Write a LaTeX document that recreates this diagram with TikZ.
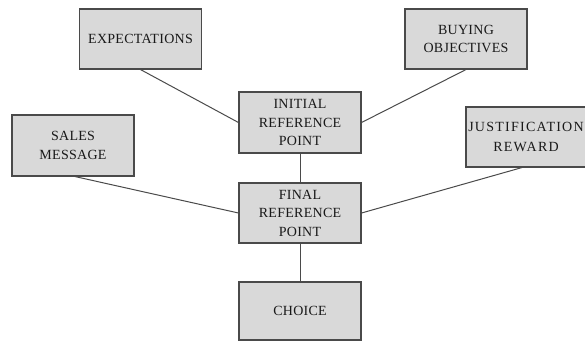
\documentclass[tikz,border=0pt]{standalone}
\usepackage{fontspec}
\setmainfont{Liberation Serif}[LetterSpace=2]
\definecolor{boxfill}{HTML}{D9D9D9}
\definecolor{boxdraw}{HTML}{4A4A4A}
\begin{document}
\begin{tikzpicture}[x=1pt,y=-1pt,
  box/.style={draw=boxdraw,fill=boxfill,line width=1.1pt,inner sep=0pt,
    minimum width=122pt,minimum height=60pt,align=center,
    font=\fontsize{14}{18.5}\selectfont,text=black!90},
  link/.style={draw=boxdraw,line width=1pt}]
\useasboundingbox (0,0) rectangle (585,342);
\node[box] (exp) at (140.5,39) {EXPECTATIONS};
\node[box] (buy) at (466,39) {BUYING\\OBJECTIVES};
\node[box,minimum height=61pt] (init) at (300,122.5) {INITIAL\\REFERENCE\\POINT};
\node[box,minimum height=61pt] (sales) at (73,145.5) {SALES\\MESSAGE};
\node[box,minimum width=120pt,font=\fontsize{14}{20}\selectfont\addfontfeature{LetterSpace=9}] (just) at (526,137) {JUSTIFICATION\\REWARD};
\node[box] (final) at (300,213) {FINAL\\REFERENCE\\POINT};
\node[box,minimum height=58pt] (choice) at (300,311) {CHOICE};
\draw[link] (exp.south) -- (init.west);
\draw[link] (buy.south) -- (init.east);
\draw[link] ([xshift=2pt]sales.south) -- (final.west);
\draw[link] ([xshift=-4pt]just.south) -- (final.east);
\draw[link] (init.south) -- (final.north);
\draw[link] (final.south) -- (choice.north);
\end{tikzpicture}
\end{document}
